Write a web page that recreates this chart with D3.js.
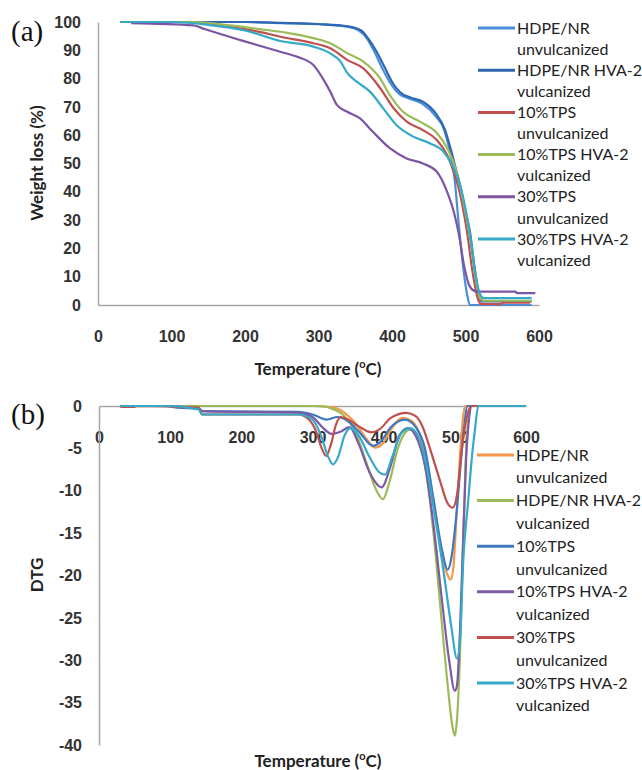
<!DOCTYPE html>
<html>
<head>
<meta charset="utf-8">
<script src="https://cdn.jsdelivr.net/npm/d3@7/dist/d3.min.js"></script>
<style>
  html, body { margin: 0; padding: 0; background: #fff; overflow: hidden; }
  svg { display: block; font-family: Lato, 'Open Sans', sans-serif; }
  .tick text { fill: #333; font-size: 16px; font-weight: bold; }
  .domain { stroke: #a6a6a6; stroke-width: 1.5; }
  .title { fill: #222; font-size: 17px; font-weight: bold; }
  .legend text { fill: #222; font-size: 16px; }
  .panel { font-family: 'Liberation Serif', 'Times New Roman', serif; font-size: 29px; fill: #111; }
</style>
</head>
<body>
<div id="canvas"></div>
<script>
/* global d3 */
(function () {
  'use strict';

  // ---- data ----
  const xTicks = [0, 100, 200, 300, 400, 500, 600];
  const tgaYTicks = [0, 10, 20, 30, 40, 50, 60, 70, 80, 90, 100];
  const dtgYTicks = [0, -5, -10, -15, -20, -25, -30, -35, -40];

  const tgaNames = ['HDPE/NR unvulcanized', 'HDPE/NR HVA-2 vulcanized', '10%TPS unvulcanized',
    '10%TPS HVA-2 vulcanized', '30%TPS unvulcanized', '30%TPS HVA-2 vulcanized'];
  const tgaColors = ['#4a8fd8', '#2f67b1', '#c0504d', '#9bbb59', '#7d55a3', '#35a9c8'];

  // weight (%) vs temperature
  const tgaHdpeUnvulc = [[30, 100], [200, 100], [250, 99.6], [300, 99.2], [340, 98.3], [355, 97], [365, 94.5],
    [375, 90], [388, 83], [400, 77.5], [410, 74.5], [425, 72.8], [442, 71], [460, 66.5], [470, 62.5], [478, 55],
    [485, 45], [491, 28], [497, 13], [502, 4], [506, 0], [590, 0]];
  const tgaHdpeVulc = [[30, 100], [200, 100], [250, 99.7], [300, 99.3], [340, 98.5], [358, 97], [368, 94],
    [378, 90], [390, 84], [402, 78], [412, 75], [425, 73.3], [442, 71.8], [460, 67.5], [472, 62], [480, 55],
    [487, 48], [493, 42], [500, 33], [506, 26], [512, 14], [518, 4], [522, 1.3], [590, 1.3]];
  const tga10Unvulc = [[30, 100], [120, 100], [180, 98.3], [220, 96.5], [248, 94.8], [293, 92.5], [316, 90.7],
    [339, 86.6], [361, 83.6], [384, 76.6], [402, 69.6], [420, 64.8], [442, 61.8], [461, 58.3], [475, 53],
    [484, 47], [490, 42], [502, 26], [510, 11], [517, 2], [522, 0.3], [548, 0.3], [551, 0.8], [588, 0.8]];
  const tga10Vulc = [[30, 100], [130, 100], [180, 98.8], [220, 97.5], [261, 96], [293, 94.3], [316, 92.5],
    [339, 89], [361, 86], [384, 80], [397, 74.2], [415, 68.3], [438, 64.8], [461, 60.8], [475, 55.5], [488, 47],
    [495, 39], [506, 24], [514, 9], [520, 2.5], [525, 1.5], [590, 1.5]];
  const tga30Unvulc = [[45, 99.6], [130, 98.8], [145, 97.5], [195, 93.5], [248, 89.5], [271, 87.7], [293, 84.8],
    [306, 80], [316, 75.4], [325, 70.7], [339, 68.3], [356, 66], [374, 61.2], [397, 55.4], [420, 51.8], [442, 50],
    [461, 47.1], [475, 40], [484, 33], [491, 25], [498, 14], [505, 7], [512, 5], [518, 4.7], [568, 4.7],
    [570, 4.2], [595, 4.2]];
  const tga30Vulc = [[30, 100], [100, 100], [150, 99], [200, 97], [248, 93.3], [293, 91.3], [316, 88.9],
    [330, 86], [339, 82], [352, 78.9], [370, 75.4], [388, 69.5], [406, 63.6], [429, 59.5], [452, 57.1],
    [470, 54.2], [484, 48.3], [493, 42], [506, 25], [514, 10], [521, 3.2], [525, 2.4], [590, 2.4]];
  const tgaSeries = [tgaHdpeUnvulc, tgaHdpeVulc, tga10Unvulc, tga10Vulc, tga30Unvulc, tga30Vulc];

  const dtgNames = tgaNames;
  const dtgColors = ['#f79646', '#9bbb59', '#3f78c0', '#7d5aa3', '#c0504d', '#35a9c8'];

  // DTG vs temperature
  const dtgHdpeUnvulc = [[30, 0], [300, 0], [330, -0.2], [345, -0.8], [360, -2], [375, -3.8], [388, -4.9],
    [398, -4.5], [410, -2.8], [427, -1.4], [440, -1.8], [455, -4.5], [470, -11], [482, -17.5], [490, -20],
    [494, -20.5], [498, -19], [503, -12], [508, -5], [512, -1], [515, 0], [600, 0]];
  const dtgHdpeVulc = [[30, 0], [310, 0], [330, -0.4], [345, -1.2], [360, -3], [375, -6.5], [390, -10],
    [399, -11], [408, -9], [420, -5], [432, -3], [438, -2.8], [448, -4], [460, -8], [470, -15], [480, -24],
    [490, -33], [497, -38], [500, -38.9], [503, -37], [507, -30], [511, -18], [515, -7], [519, -1.5], [523, 0],
    [600, 0]];
  const dtg10Unvulc = [[30, 0], [95, 0], [110, -0.2], [140, -0.3], [145, -0.6], [280, -0.7], [300, -1],
    [320, -1.6], [335, -1.3], [350, -1.8], [365, -3], [385, -4.7], [395, -4.3], [410, -2.5], [430, -1.6],
    [445, -2.5], [458, -5], [470, -11], [482, -17], [490, -19.3], [495, -18], [502, -13], [508, -7],
    [513, -2.5], [518, 0], [600, 0]];
  const dtg10Vulc = [[30, 0], [95, 0], [140, -0.3], [145, -0.6], [280, -0.8], [300, -1.3], [315, -2.6],
    [327, -3.3], [340, -3], [352, -2.5], [365, -4.5], [380, -7.8], [397, -9.6], [410, -7], [422, -3.5],
    [434, -2.6], [445, -3.5], [458, -7], [470, -14], [482, -23], [492, -30], [500, -33.6], [503, -33],
    [507, -27], [512, -15], [516, -6], [520, -1.5], [523, 0], [600, 0]];
  const dtg30Unvulc = [[30, -0.1], [50, -0.1], [52, 0], [140, -0.2], [145, -1], [280, -1], [295, -1.6],
    [305, -3], [313, -5], [319, -5.9], [326, -4.5], [333, -2.2], [340, -1.3], [350, -1.6], [365, -2.4],
    [383, -3.1], [395, -2.7], [410, -1.4], [432, -0.8], [445, -1.2], [455, -2.5], [465, -5], [478, -8.5],
    [490, -11.5], [497, -12], [503, -10.5], [510, -5], [517, -1.2], [524, 0], [600, 0]];
  const dtg30Vulc = [[30, 0], [95, 0], [140, -0.4], [145, -1], [280, -1], [300, -1.6], [312, -3.5],
    [322, -6], [329, -6.9], [336, -6], [345, -3.5], [353, -2.6], [365, -3.5], [380, -6], [395, -7.9],
    [402, -8.1], [412, -6], [425, -3.2], [437, -2.6], [448, -3.5], [460, -7], [472, -13], [485, -20],
    [495, -26], [503, -29.8], [507, -28], [512, -18], [519, -11], [524, -6], [528, -3], [533, 0], [600, 0]];
  const dtgSeries = [dtgHdpeUnvulc, dtgHdpeVulc, dtg10Unvulc, dtg10Vulc, dtg30Unvulc, dtg30Vulc];

  const width = 642;
  const height = 770;

  const svg = d3.select('#canvas')
    .append('svg')
    .attr('width', width)
    .attr('height', height);

  function splitName(name) {
    const i = name.lastIndexOf(' ');
    return [name.slice(0, i), name.slice(i + 1)];
  }

  function drawPanel(opts) {
    const g = svg.append('g');

    const xScale = d3.scaleLinear().domain([0, 600]).range(opts.xRange);
    const yScale = d3.scaleLinear().domain(opts.yDomain).range(opts.yRange);

    // axes (plain hyphen for negatives, like the original)
    const xAxis = d3.axisBottom(xScale).tickValues(xTicks).tickSize(0).tickSizeOuter(0)
      .tickFormat(d => String(d));
    const xg = g.append('g')
      .attr('transform', 'translate(0,' + yScale(opts.xAxisAt) + ')')
      .call(xAxis);
    xg.selectAll('text').attr('y', opts.xLabelOffset).attr('dy', '0.35em');

    const yAxis = d3.axisLeft(yScale).tickValues(opts.yTicks).tickSize(0).tickSizeOuter(0).tickPadding(17)
      .tickFormat(d => String(d));
    g.append('g')
      .attr('transform', 'translate(' + opts.xRange[0] + ',0)')
      .call(yAxis);

    // lines
    const line = d3.line()
      .x(d => xScale(d[0]))
      .y(d => yScale(d[1]))
      .curve(d3.curveMonotoneX);

    g.selectAll('path.series')
      .data(opts.series)
      .enter()
      .append('path')
      .attr('class', 'series')
      .attr('fill', 'none')
      .attr('stroke', (d, i) => opts.colors[i])
      .attr('stroke-width', 2.2)
      .attr('stroke-linejoin', 'round')
      .attr('d', line);

    // legend
    const legend = g.append('g').attr('class', 'legend');
    opts.names.forEach((name, i) => {
      const parts = splitName(name);
      const y0 = opts.legendTop + i * 2 * opts.legendStep;
      legend.append('line')
        .attr('x1', opts.legendX).attr('x2', opts.legendX + 37)
        .attr('y1', y0).attr('y2', y0)
        .attr('stroke', opts.colors[i])
        .attr('stroke-width', 3);
      legend.append('text')
        .attr('x', opts.legendX + 39).attr('y', y0).attr('dy', '0.35em')
        .text(parts[0]);
      legend.append('text')
        .attr('x', opts.legendX + 39).attr('y', y0 + opts.legendStep).attr('dy', '0.35em')
        .text(parts[1]);
    });

    // titles
    g.append('text')
      .attr('class', 'panel')
      .attr('x', 11)
      .attr('y', opts.panelY)
      .text(opts.panel);

    g.append('text')
      .attr('class', 'title')
      .attr('transform', 'translate(' + 43 + ',' + opts.yTitleAt + ') rotate(-90)')
      .attr('text-anchor', 'middle')
      .text(opts.yTitle);

    const xt = g.append('text')
      .attr('class', 'title')
      .attr('x', 318)
      .attr('y', opts.xTitleY)
      .attr('text-anchor', 'middle');
    xt.append('tspan').text('Temperature (');
    xt.append('tspan').attr('dy', -7).attr('font-size', '11px').text('o');
    xt.append('tspan').attr('dy', 7).text('C)');
  }

  drawPanel({
    panel: '(a)', panelY: 41,
    xRange: [98, 539], yDomain: [0, 100], yRange: [305, 22], yTicks: tgaYTicks,
    xAxisAt: 0, xLabelOffset: 31,
    series: tgaSeries, colors: tgaColors, names: tgaNames,
    legendX: 478, legendTop: 28, legendStep: 21.1,
    yTitle: 'Weight loss  (%)', yTitleAt: 163, xTitleY: 375
  });

  drawPanel({
    panel: '(b)', panelY: 424,
    xRange: [99, 526], yDomain: [-40, 0], yRange: [745, 406], yTicks: dtgYTicks,
    xAxisAt: 0, xLabelOffset: 31,
    series: dtgSeries, colors: dtgColors, names: dtgNames,
    legendX: 477, legendTop: 455, legendStep: 22.8,
    yTitle: 'DTG', yTitleAt: 575, xTitleY: 767
  });
}());
</script>
</body>
</html>
